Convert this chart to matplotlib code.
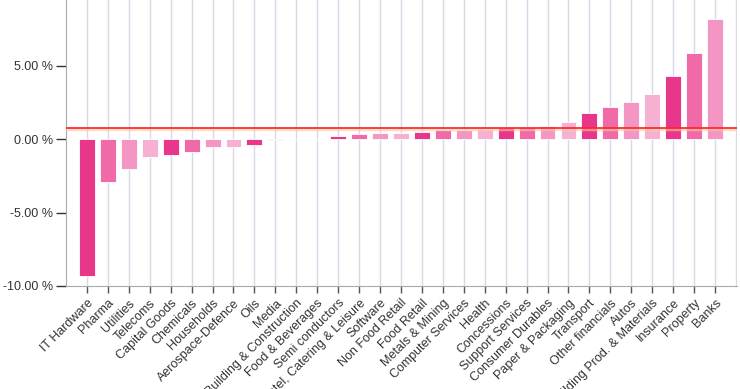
import matplotlib
matplotlib.use('Agg')
import matplotlib.pyplot as plt
import numpy as np

sectors = ['IT Hardware', 'Pharma', 'Utilities', 'Telecoms', 'Capital Goods',
           'Chemicals', 'Households', 'Aerospace-Defence', 'Oils', 'Media',
           'Building & Construction', 'Food & Beverages', 'Semi conductors',
           'Hotel, Catering & Leisure', 'Software', 'Non Food Retail',
           'Food Retail', 'Metals & Mining', 'Computer Services', 'Health',
           'Concessions', 'Support Services', 'Consumer Durables',
           'Paper & Packaging', 'Transport', 'Other financials', 'Autos',
           'Building Prod. & Materials', 'Insurance', 'Property', 'Banks']
returns = [-9.30, -2.89, -2.00, -1.18, -1.09, -0.84, -0.52, -0.52, -0.36,
           -0.02, 0.0, 0.02, 0.20, 0.35, 0.42, 0.42, 0.52, 0.61, 0.61, 0.68,
           0.84, 0.84, 0.93, 1.18, 1.82, 2.23, 2.55, 3.11, 4.32, 5.86, 8.20]
average = 0.75
ytick_values = [-10, -5, 0, 5]

palette = ['#e8378a', '#f16aa8', '#f396c3', '#f6b1d2']
colors = [palette[i % 4] for i in range(len(sectors))]

fig = plt.figure(figsize=(7.4, 3.89), dpi=100)
ax = fig.add_axes([66 / 740, 103 / 389, 671 / 740, 286 / 389])

x = np.arange(len(sectors))
for xi in list(x) + [len(sectors)]:
    ax.axvline(xi, color='#d8d8e8', lw=1, zorder=0)

ax.bar(x, returns, width=0.76, color=colors, edgecolor='white', linewidth=0.6, zorder=2)

# average line with a faint glow under it
ax.axhline(average - 0.05, color='#ffc8a8', lw=2.5, alpha=0.6, zorder=3)
ax.axhline(average, color='#ff2020', lw=1.2, zorder=4)

ax.set_xlim(-1, len(sectors) + 0.05)
ax.set_ylim(-10, 9.5)

ax.set_yticks(ytick_values)
ax.set_yticklabels(['%.2f %%' % v for v in ytick_values], fontsize=9, color='#333333',
                   family='Liberation Sans')
ax.set_xticks(x)
ax.set_xticklabels(sectors, rotation=45, ha='right', va='top', rotation_mode='anchor',
                   fontsize=9, color='#333333', family='Liberation Sans')

ax.tick_params(axis='y', length=7, width=1, color='#333333', pad=2)
ax.tick_params(axis='x', length=5, width=1, color='#555555', pad=3)

for side in ['top', 'right']:
    ax.spines[side].set_visible(False)
ax.spines['left'].set_color('#aaaaaa')
ax.spines['bottom'].set_color('#aaaaaa')

fig.savefig('out.png', dpi=100)
